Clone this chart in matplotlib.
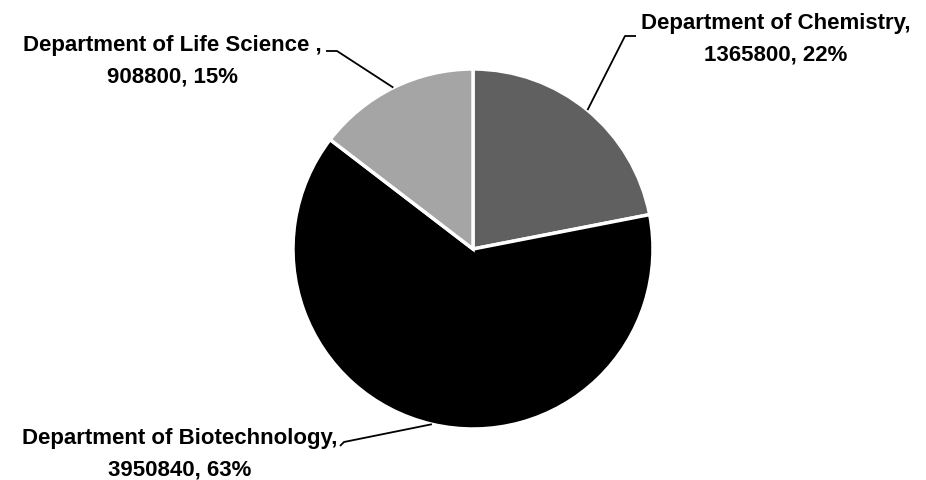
import matplotlib
matplotlib.use("Agg")
import matplotlib.pyplot as plt
import numpy as np

categories = ["Department of Chemistry", "Department of Biotechnology", "Department of Life Science"]
values = [1365800, 3950840, 908800]
colors = ["#606060", "#000000", "#a5a5a5"]

W, H = 926, 481
fig = plt.figure(figsize=(W / 100, H / 100), dpi=100)
ax = fig.add_axes([0, 0, 1, 1])
ax.set_xlim(0, W)
ax.set_ylim(0, H)
ax.axis("off")

cx, cy, R = 473, H - 250, 180
wedges, _ = ax.pie(values, colors=colors, startangle=90, counterclock=False,
                   center=(cx, cy), radius=R,
                   wedgeprops=dict(edgecolor="white", linewidth=2.5))
ax.set_xlim(0, W)
ax.set_ylim(0, H)
ax.set_aspect("equal")

total = sum(values)
pcts = [round(v / total * 100) for v in values]

# label layout (pixel positions, image y measured from top)
text_pos = [(776, 39), (180, 454), (172, 61)]
line_pts = [[(625, 37), (636, 37)], [(344, 443), (340, 447)], [(337, 52), (326, 52)]]
line1 = [categories[0] + ",", categories[1] + ",", categories[2] + " ,"]

for i, w in enumerate(wedges):
    mid = np.deg2rad((w.theta1 + w.theta2) / 2)
    ex, ey = cx + R * np.cos(mid), cy + R * np.sin(mid)
    xs = [ex] + [p[0] for p in line_pts[i]]
    ys = [ey] + [H - p[1] for p in line_pts[i]]
    ax.plot(xs, ys, color="black", lw=1.3, solid_capstyle="butt")
    tx, ty = text_pos[i]
    ax.text(tx, H - ty, f"{line1[i]}\n{values[i]}, {pcts[i]}%", ha="center", va="center",
            multialignment="center", fontsize=16, fontweight="bold",
            family=["Liberation Sans", "DejaVu Sans"], linespacing=1.68, color="black")

fig.savefig("out.png", dpi=100, facecolor="white")
